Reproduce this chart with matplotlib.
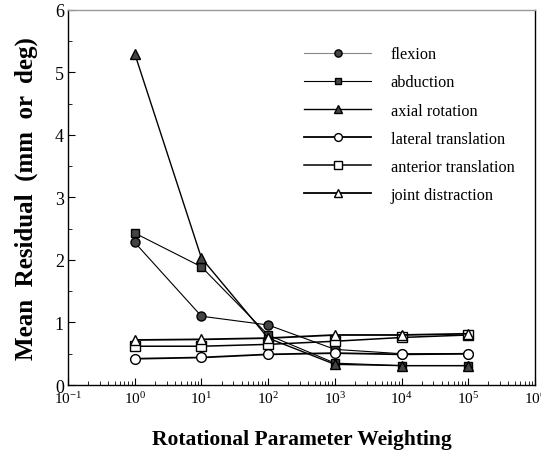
import numpy as np
import matplotlib
matplotlib.use('Agg')
import matplotlib.pyplot as plt
from matplotlib.ticker import LogLocator, MultipleLocator

''' Data '''
weights = [1, 10, 100, 1000, 10000, 100000]
flexion = [2.28, 1.10, 0.96, 0.57, 0.50, 0.50]
abduction = [2.43, 1.89, 0.80, 0.35, 0.31, 0.31]
axial_rotation = [5.30, 2.03, 0.75, 0.33, 0.31, 0.31]
lateral_translation = [0.42, 0.44, 0.49, 0.51, 0.49, 0.50]
anterior_translation = [0.62, 0.62, 0.65, 0.70, 0.76, 0.80]
joint_distraction = [0.72, 0.73, 0.75, 0.80, 0.80, 0.82]

plt.rcParams['font.family'] = 'Liberation Serif'
plt.rcParams['mathtext.fontset'] = 'custom'
plt.rcParams['mathtext.rm'] = 'Liberation Serif'

fig = plt.figure(figsize=(5.41, 4.52), dpi=100)
ax = fig.add_axes([0.1257, 0.146, 0.8633, 0.830])

dark = '#444444'
ax.plot(weights, flexion, '-o', color='k', lw=0.8, ms=6.5, mfc=dark, mec='k', label='flexion')
ax.plot(weights, abduction, '-s', color='k', lw=0.8, ms=6, mfc=dark, mec='k', label='abduction')
ax.plot(weights, axial_rotation, '-^', color='k', lw=1.0, ms=6.5, mfc=dark, mec='k', label='axial rotation')
ax.plot(weights, lateral_translation, '-o', color='k', lw=1.3, ms=7, mfc='white', mec='k', label='lateral translation')
ax.plot(weights, anterior_translation, '-s', color='k', lw=1.1, ms=7, mfc='white', mec='k', label='anterior translation')
ax.plot(weights, joint_distraction, '-^', color='k', lw=1.3, ms=7, mfc='white', mec='k', label='joint distraction')

ax.set_xscale('log')
ax.set_xlim(0.1, 1e6)
ax.set_ylim(0, 6)
ax.xaxis.set_major_locator(LogLocator(base=10, numticks=10))
ax.xaxis.set_minor_locator(LogLocator(base=10, subs=np.arange(2, 10), numticks=10))
ax.yaxis.set_major_locator(MultipleLocator(1))
ax.yaxis.set_minor_locator(MultipleLocator(0.5))
ax.tick_params(which='both', direction='in', top=False, right=False)
ax.tick_params(axis='x', labelsize=11, pad=4)
ax.tick_params(axis='y', labelsize=13, pad=3)
ax.tick_params(which='major', length=5)
ax.tick_params(which='minor', length=3)
for s in ax.spines.values():
    s.set_linewidth(1.0)
ax.spines['top'].set_color('#999999')

ax.set_xlabel('Rotational Parameter Weighting', fontsize=15.5, fontweight='bold', labelpad=16)
ax.set_ylabel('Mean  Residual  (mm  or  deg)', fontsize=18, fontweight='bold', labelpad=12)

leg = ax.legend(loc='upper left', bbox_to_anchor=(0.475, 0.942), frameon=False, fontsize=11.7,
                handlelength=4.1, handletextpad=1.2, labelspacing=0.75, markerscale=0.8)
leg.get_lines()[0].set_color('#888888')

fig.savefig('out.png', dpi=100)
